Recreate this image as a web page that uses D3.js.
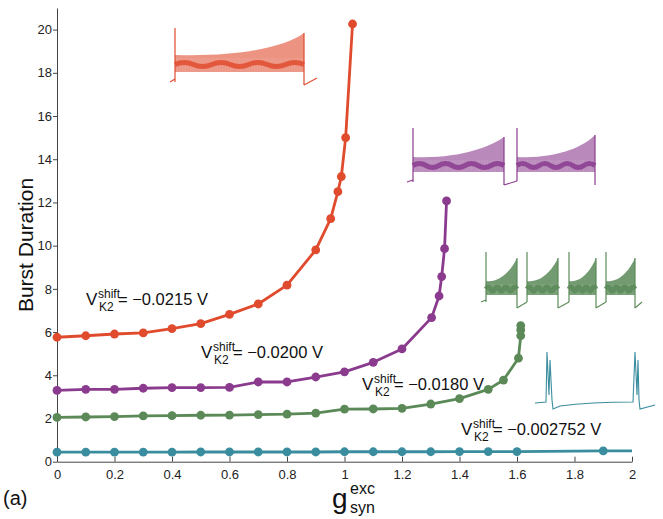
<!DOCTYPE html>
<html><head><meta charset="utf-8">
<script src="https://cdn.jsdelivr.net/npm/d3@7"></script>
<style>body{margin:0;background:#fff}svg{display:block;font-family:"Liberation Sans",Arial,Helvetica,sans-serif}</style>
</head><body><svg id="c" width="663" height="519"></svg>
<script>
// ---- data ----
const xTicks = [0,0.2,0.4,0.6,0.8,1,1.2,1.4,1.6,1.8,2];
const yTicks = [0,2,4,6,8,10,12,14,16,18,20];

const redX = [0,0.1,0.2,0.3,0.4,0.5,0.6,0.7,0.8,0.9,0.952,0.977,0.989,1.004,1.028];
const redY = [5.76,5.83,5.91,5.96,6.16,6.39,6.82,7.3,8.17,9.8,11.25,12.5,13.2,15.0,20.26];

const purpleX = [0,0.1,0.2,0.3,0.4,0.5,0.6,0.7,0.8,0.9,1.0,1.1,1.2,1.303,1.329,1.338,1.348,1.355];
const purpleY = [3.30,3.35,3.35,3.40,3.43,3.43,3.44,3.69,3.69,3.92,4.16,4.6,5.22,6.67,7.67,8.57,9.86,12.07];

const greenX = [0,0.1,0.2,0.3,0.4,0.5,0.6,0.7,0.8,0.9,1.0,1.1,1.2,1.3,1.4,1.5,1.553,1.605,1.613,1.613,1.613];
const greenY = [2.05,2.07,2.09,2.12,2.13,2.15,2.16,2.18,2.2,2.25,2.43,2.44,2.47,2.67,2.92,3.35,3.78,4.79,5.83,6.1,6.3];

const cyanX = [0,0.1,0.2,0.3,0.4,0.5,0.6,0.7,0.8,0.9,1.0,1.1,1.2,1.3,1.4,1.5,1.6,1.9,2.0];
const cyanY = [0.44,0.44,0.44,0.44,0.44,0.45,0.45,0.45,0.45,0.45,0.46,0.46,0.46,0.46,0.47,0.47,0.47,0.5,0.5];
const cyanMarked = [1,1,1,1,1,1,1,1,1,1,1,1,1,1,1,1,1,1,0];

const labels = ["\u22120.0215 V","\u22120.0200 V","\u22120.0180 V","\u22120.002752 V"];

// ---- layout ----
const svg = d3.select("#c");
const x = d3.scaleLinear().domain([0,2]).range([57,632]);
const y = d3.scaleLinear().domain([0,21]).range([461.7,8]);
const C = {red:"#e04b2e", purple:"#8a3b8e", green:"#5b8a58", cyan:"#3a8d9e"};

// ---- insets (decorative burst traces) ----
const insetG = svg.append("g");
function burst(g, col, x0, x1, spikeTop, base, bandTopL, bandTopR, endTop, bandBot, endBot, op) {
  const bandTop = `M${x0},${bandTopL} C${x0+(x1-x0)*0.5},${bandTopL+2} ${x0+(x1-x0)*0.85},${bandTopR+4} ${x1},${endTop}`;
  const band = bandTop + ` L${x1},${bandBot} L${x0},${bandBot} Z`;
  g.append("path").attr("d", band).attr("fill", col).attr("fill-opacity", op);
  for (let xx = x0+1; xx < x1; xx += 1.6) {
    g.append("line").attr("x1",xx).attr("x2",xx)
      .attr("y1", bandBot).attr("y2", bandTopL + 3)
      .attr("stroke", "#fff").attr("stroke-opacity",0.18).attr("stroke-width",0.6);
  }
  const mid = (bandTopL + bandBot)/2 + 1;
  const n = 7, w = (x1-x0)/n;
  let d = `M${x0},${mid}`;
  for (let i=0;i<n;i++){ d += ` Q${x0+w*i+w/2},${mid + (i%2?4:-4)} ${x0+w*(i+1)},${mid}`; }
  g.append("path").attr("d", d).attr("fill","none").attr("stroke", col).attr("stroke-width", 5).attr("stroke-opacity",0.85);
  g.append("path").attr("d", `M${x0},${base} L${x0},${spikeTop}`).attr("stroke",col).attr("stroke-width",1.2);
  g.append("path").attr("d", `M${x1},${endTop} L${x1},${endBot}`).attr("stroke",col).attr("stroke-width",1.2);
}
function trace(g,col,d){ g.append("path").attr("d",d).attr("fill","none").attr("stroke",col).attr("stroke-width",1.1); }

// red
burst(insetG, C.red, 175, 304, 28, 82, 55, 43, 33, 72, 85, 0.6);
trace(insetG, C.red, "M170,82 L175,79");
trace(insetG, C.red, "M304,85 L317,78");
// purple
burst(insetG, C.purple, 413, 504, 128, 182, 157, 143, 137, 172, 185, 0.6);
trace(insetG, C.purple, "M407,182 L413,180");
trace(insetG, C.purple, "M504,185 L517,181");
burst(insetG, C.purple, 517, 595, 128, 181, 157, 143, 135, 172, 185, 0.6);
// green
[[486,517],[527,558],[569,596],[606,635]].forEach((b,i)=>{
  burst(insetG, C.green, b[0], b[1], 252, 302, 281, 264, 258, 295, 308, 0.85);
  trace(insetG, C.green, `M${b[1]},308 L${i<3?[527,569,606][i]:642},302`);
});
trace(insetG, C.green, "M481,302 L486,300");
// cyan
trace(insetG, C.cyan, "M535,403 L546,402 L547,352 L549,395 L550,360 L552,400 L553,409 L560,406 C590,402 620,402 633,402 L635,352 L637,395 L638,360 L639,400 L640,409 L655,405");

// ---- axes ----
const ya = d3.axisLeft(y).tickValues(yTicks).tickSizeInner(4).tickSizeOuter(0).tickPadding(1).tickFormat(d3.format("d"));
const gy = svg.append("g").attr("transform","translate(57,0)").call(ya);
const xa = d3.axisBottom(x).tickValues(xTicks).tickSizeInner(-5).tickSizeOuter(0).tickPadding(8).tickFormat(d=>String(+d.toFixed(1)));
const gx = svg.append("g").attr("transform","translate(0,461.7)").call(xa);
[gx,gy].forEach(g=>{
  g.selectAll("text").attr("font-size",13).attr("fill","#222").attr("font-family","Liberation Sans, Arial, sans-serif");
  g.selectAll("line,path").attr("stroke","#444").attr("stroke-width",1);
});

// ---- series ----
function series(xs, ys, col, marked) {
  const pts = xs.map((v,i)=>[v, ys[i], marked ? marked[i] : 1]);
  svg.append("path").datum(pts)
    .attr("d", d3.line().x(d=>x(d[0])).y(d=>y(d[1])))
    .attr("fill","none").attr("stroke",col).attr("stroke-width",2.8).attr("stroke-linejoin","round");
  svg.append("g").selectAll("circle").data(pts.filter(d=>d[2])).join("circle")
    .attr("cx",d=>x(d[0])).attr("cy",d=>y(d[1])).attr("r",4.4).attr("fill",col);
}
series(redX, redY, C.red);
series(purpleX, purpleY, C.purple);
series(greenX, greenY, C.green);
series(cyanX, cyanY, C.cyan, cyanMarked);

// ---- annotations ----
function vlabel(px, py, val) {
  const g = svg.append("g").attr("fill","#111");
  g.append("text").attr("x",px).attr("y",py).attr("font-size",17).text("V");
  g.append("text").attr("x",px+12).attr("y",py-7).attr("font-size",12).text("shift");
  g.append("text").attr("x",px+13).attr("y",py+6).attr("font-size",12).text("K2");
  g.append("text").attr("x",px+32).attr("y",py).attr("font-size",16.5).text("= " + val);
}
vlabel(86, 305, labels[0]);
vlabel(201, 358, labels[1]);
vlabel(362, 390, labels[2]);
vlabel(461, 435, labels[3]);

// axis titles
svg.append("text").attr("transform","translate(33,245) rotate(-90)").attr("text-anchor","middle")
  .attr("font-size",21).attr("fill","#111").text("Burst Duration");
svg.append("text").attr("x",332).attr("y",508).attr("font-size",28).attr("fill","#111").text("g");
svg.append("text").attr("x",350).attr("y",494).attr("font-size",16).attr("fill","#111").text("exc");
svg.append("text").attr("x",350).attr("y",513).attr("font-size",16).attr("fill","#111").text("syn");
svg.append("text").attr("x",3).attr("y",505).attr("font-size",20).attr("fill","#111").text("(a)");
</script></body></html>
